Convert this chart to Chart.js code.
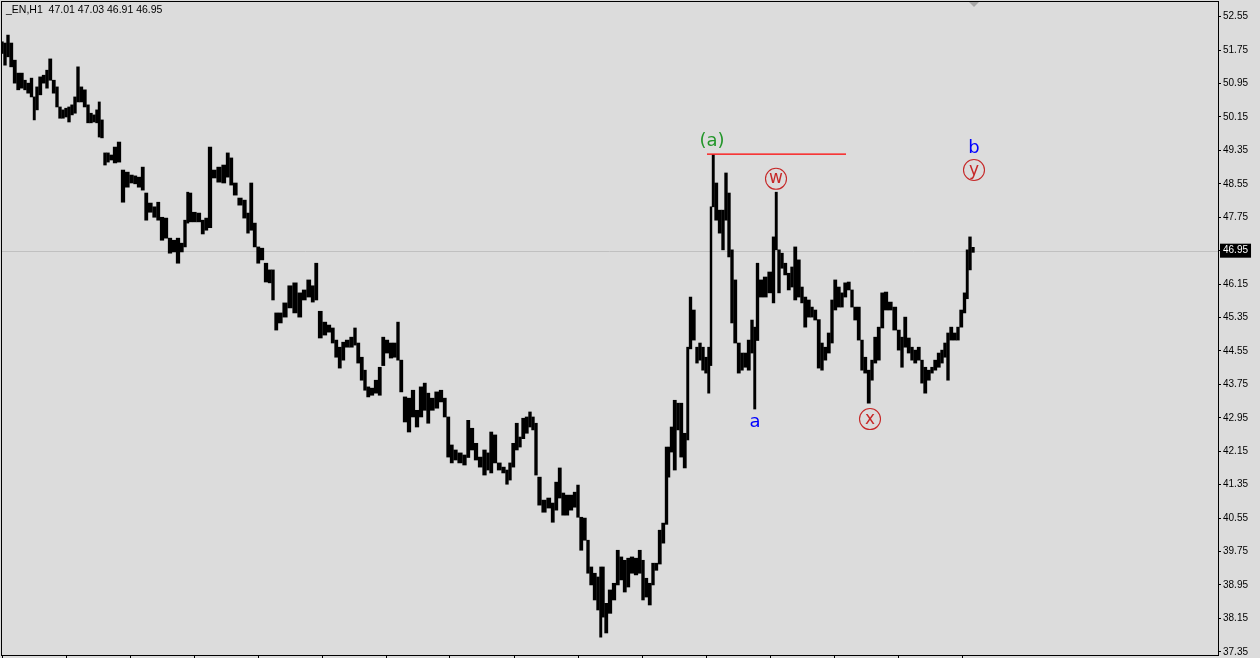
<!DOCTYPE html>
<html>
<head>
<meta charset="utf-8">
<script src="https://cdn.jsdelivr.net/npm/chart.js@4.4.1/dist/chart.umd.min.js"></script>
<style>
  html, body { margin: 0; padding: 0; background: #dcdcdc; overflow: hidden; }
  canvas { display: block; }
</style>
</head>
<body>
<canvas id="myChart" width="1260" height="658" style="width:1260px;height:658px"></canvas>
<script>
// quote header: symbol and last bar (open, high, low, close)
const symbol = '_EN,H1';
const lastBar = [47.01, 47.03, 46.91, 46.95];

// hourly bars, hour offset from the first visible bar
const hours = [
  0,3,6,9,13,16,20,23,26,30, 32,35,38,42,45,48,52,55,58,61,
  64,67,70,73,76,79,83,86,89,92, 95,97,100,103,106,109,113,117,121,125,
  130,133,137,141,144,148,153,156,160,164, 168,172,176,180,183,186,188,192,197,201,
  204,208,212,217,222,226,229,233,238,243, 246,249,253,256,260,264,268,271,274,278,
  283,288,293,298,302,307,311,314,318,323, 327,331,334,338,341,345,350,353,356,360,
  363,366,370,374,378,381,385,389,393,396, 399,403,407,411,415,419,423,426,430,435,
  439,443,446,450,453,458,463,466,470,474, 478,483,486,489,493,497,502,505,508,511,
  515,518,521,525,528,531,534,537,542,547, 551,554,558,561,565,569,573,576,579,583,
  586,589,593,596,599,601,604,608,612,616, 619,623,626,630,634,638,641,644,648,651,
  654,658,661,665,667,669,673,676,679,683, 686,688,692,695,698,701,704,707,709,711,
  714,718,721,724,727,730,733,737,740,743, 747,750,753,755,759,763,768,772,774,777,
  780,783,787,790,793,797,800,803,807,810, 813,817,820,823,827,830,833,837,840,843,
  847,850,853,857,860,863,867,870,873,877, 880,884,888,893,897,900,903,907,910,913,
  917,920,923,927,930,933,937,940,943,946, 949,953,956,959,963,965,968,971
];
const highs = [
  51.95,51.92,52.11,51.92,51.51,51.20,51.20,51.03,50.96,51.08, 50.63,50.87,51.11,51.15,51.27,51.54,51.03,50.87,50.39,50.32,
  50.36,50.39,50.44,50.63,51.35,50.87,50.80,50.44,50.24,50.20, 50.32,50.51,50.08,49.29,49.29,49.24,49.43,49.55,48.88,48.83,
  48.76,48.74,48.71,48.95,48.33,48.09,48.00,48.11,47.75,47.73, 47.25,47.20,47.25,47.13,47.68,48.35,48.33,47.87,47.85,47.68,
  47.73,49.43,48.88,48.95,49.00,49.29,49.17,48.57,48.21,48.16, 47.85,48.57,47.61,47.04,47.01,46.65,46.49,46.49,45.46,45.46,
  45.70,46.11,46.18,45.94,46.01,46.25,46.11,46.65,45.50,45.24, 45.17,45.10,44.81,44.64,44.76,44.81,44.88,45.10,44.74,44.40,
  44.09,43.69,43.66,43.85,44.16,44.88,44.81,44.74,44.74,45.24, 44.33,43.45,43.42,43.61,43.13,43.69,43.78,43.54,43.42,43.57,
  43.61,43.42,42.97,42.30,42.18,42.11,42.06,42.89,42.70,42.34, 42.01,42.18,42.11,42.61,42.54,41.87,41.77,41.70,41.87,42.34,
  42.82,42.49,42.94,42.97,43.09,42.97,42.82,41.53,40.98,41.03, 40.91,41.41,41.75,41.15,41.10,41.10,41.17,41.34,40.57,40.55,
  40.02,39.38,39.23,39.14,39.38,39.38,38.51,38.83,38.99,39.78, 39.62,39.54,39.59,39.62,39.59,39.78,39.54,39.11,38.99,39.47,
  39.47,40.26,40.43,42.25,42.25,42.73,43.37,43.30,43.30,42.58, 44.64,45.84,45.53,44.64,44.74,44.64,44.40,44.64,48.00,49.24,
  48.57,47.92,47.92,48.81,48.33,46.97,46.25,44.74,44.50,44.50, 44.81,45.29,45.12,46.65,46.25,46.32,46.44,47.28,48.35,46.97,
  46.89,46.65,46.41,46.56,47.04,46.73,46.08,45.84,45.77,45.60, 45.53,45.30,44.74,44.64,44.98,45.77,46.25,46.08,45.94,46.18,
  46.20,46.01,45.60,45.60,44.81,44.40,44.09,44.33,44.88,45.12, 45.94,45.96,45.72,45.60,45.05,44.88,45.36,44.86,44.64,44.57,
  44.64,44.33,44.16,44.09,44.16,44.33,44.50,44.57,44.74,44.98, 45.12,44.98,45.12,45.53,45.94,46.97,47.28,47.03
];
const lows = [
  51.67,51.39,51.59,51.35,50.96,50.80,50.84,50.80,50.72,50.63, 50.08,50.32,50.68,50.96,50.84,51.03,50.72,50.39,50.12,50.12,
  50.15,50.03,50.20,50.24,50.51,50.51,50.39,50.01,50.01,50.03, 50.01,49.67,49.65,49.00,49.07,49.12,49.05,49.07,48.11,48.47,
  48.57,48.55,48.47,48.40,47.68,47.87,47.75,47.68,47.20,47.25, 46.89,46.92,46.65,46.92,47.04,47.61,47.64,47.64,47.64,47.35,
  47.44,47.50,48.69,48.59,48.57,48.71,48.52,48.28,48.04,47.73, 47.37,47.44,47.04,46.65,46.73,46.20,46.18,45.77,45.05,45.22,
  45.36,45.58,45.46,45.36,45.77,45.84,45.72,45.77,44.86,44.93, 45.00,44.74,44.40,44.14,44.33,44.64,44.64,44.69,44.26,43.85,
  43.61,43.45,43.49,43.54,43.49,44.20,44.50,44.38,44.40,44.33, 43.57,42.85,42.61,42.97,42.73,42.97,43.13,42.82,43.13,43.18,
  43.33,42.97,42.01,41.87,41.94,41.87,41.82,42.00,42.18,41.94, 41.77,41.58,41.70,41.63,41.87,41.70,41.63,41.36,41.46,41.77,
  42.18,42.25,42.45,42.58,42.73,42.66,41.58,40.86,40.69,40.79, 40.45,40.74,41.03,40.62,40.62,40.74,40.81,40.57,39.78,40.02,
  39.23,38.95,38.59,38.35,37.70,38.18,37.80,38.27,38.59,38.95, 39.07,38.78,38.90,39.23,39.19,39.23,38.59,38.66,38.47,38.95,
  39.30,39.45,39.95,40.40,41.53,42.13,41.70,42.66,42.01,41.75, 42.42,44.60,44.81,44.26,44.33,44.09,44.02,43.54,44.20,48.00,
  47.68,47.37,46.97,47.68,46.80,45.22,44.74,44.02,44.09,44.16, 44.09,44.50,43.16,44.80,45.84,45.84,45.94,45.70,46.97,45.94,
  46.53,46.37,46.01,46.08,45.77,45.84,45.70,45.12,45.36,45.36, 45.29,44.14,44.09,44.33,44.50,44.74,45.53,45.60,45.60,45.84,
  46.01,45.60,45.29,44.81,44.09,44.02,43.30,43.85,44.26,44.33, 45.10,45.53,45.53,45.05,44.57,44.16,44.64,44.50,44.33,44.26,
  44.33,43.78,43.54,43.85,44.02,44.09,44.16,44.26,44.40,43.85, 44.81,44.81,44.81,45.12,45.46,45.80,46.49,46.91
];

// price axis labels and time axis tick hours
const priceTicks = [52.55,51.75,50.95,50.15,49.35,48.55,47.75,46.95,46.15,45.35,44.55,43.75,42.95,42.15,41.35,40.55,39.75,38.95,38.15,37.35];
const timeTicks = [0,64,128,192,256,320,384,448,512,576,640,704,768,832,896,960];

// horizontal level drawn from the (a) high
const levelPrice = 49.26;
const levelFrom = 705;
const levelTo = 844;

// wave count labels
const waveLabels = ['(a)', 'a', 'w', 'x', 'b', 'y'];
const waveHours = [710, 753, 774, 868, 972, 972];
const wavePrices = [49.57, 42.85, 48.67, 42.92, 49.41, 48.88];

const lastClose = lastBar[3];

const waveStyle = {
  '(a)': { color: '#23962a', circled: false },
  'a': { color: '#0000ff', circled: false },
  'b': { color: '#0000ff', circled: false },
  'w': { color: '#c62828', circled: true },
  'x': { color: '#c62828', circled: true },
  'y': { color: '#c62828', circled: true }
};

const bars = hours.map((h, i) => ({ x: h, y: [lows[i], highs[i]] }));

const terminalLook = {
  id: 'terminalLook',
  beforeDraw(chart) {
    const c = chart.ctx;
    c.save();
    c.fillStyle = '#dcdcdc';
    c.fillRect(0, 0, chart.width, chart.height);
    c.restore();
  },
  beforeDatasetsDraw(chart) {
    // current price line
    const { ctx: c, chartArea: a, scales } = chart;
    const y = Math.round(scales.y.getPixelForValue(lastClose)) + 0.5;
    c.save();
    c.strokeStyle = '#c0c0c0';
    c.lineWidth = 1;
    c.beginPath();
    c.moveTo(a.left, y);
    c.lineTo(a.right, y);
    c.stroke();
    c.restore();
  },
  afterDraw(chart) {
    const { ctx: c, chartArea: a, scales } = chart;
    c.save();
    // plot frame
    c.strokeStyle = '#000';
    c.lineWidth = 1;
    c.strokeRect(Math.round(a.left) + 0.5, Math.round(a.top) + 0.5,
                 Math.round(a.right - a.left), Math.round(a.bottom - a.top));

    // header
    c.fillStyle = '#000';
    c.font = '10.5px "Liberation Sans", Arial, sans-serif';
    c.textAlign = 'left';
    c.textBaseline = 'middle';
    c.fillText(symbol + '  ' + lastBar.map(v => v.toFixed(2)).join(' '), 6, 10);

    // chart shift marker
    const mx = scales.x.getPixelForValue(hours[hours.length - 1] + 1);
    c.fillStyle = '#a8a8a8';
    c.beginPath();
    c.moveTo(mx - 5, 2);
    c.lineTo(mx + 5, 2);
    c.lineTo(mx, 7);
    c.closePath();
    c.fill();

    // wave labels
    c.textAlign = 'center';
    c.textBaseline = 'alphabetic';
    waveLabels.forEach((t, i) => {
      const st = waveStyle[t];
      const x = scales.x.getPixelForValue(waveHours[i]);
      const y = scales.y.getPixelForValue(wavePrices[i]);
      c.fillStyle = st.color;
      if (st.circled) {
        c.strokeStyle = st.color;
        c.lineWidth = 1.1;
        c.beginPath();
        c.arc(x, y, 10.5, 0, Math.PI * 2);
        c.stroke();
        c.font = '17px "DejaVu Sans", sans-serif';
        c.fillText(t, x, y + 4.5);
      } else {
        c.font = '18px "DejaVu Sans", sans-serif';
        c.fillText(t, x, y + 5);
      }
    });
    c.restore();
  }
};

const ctx = document.getElementById('myChart').getContext('2d');
const myChart = new Chart(ctx, {
  type: 'bar',
  data: {
    datasets: [
      {
        type: 'line',
        label: 'level',
        data: [{ x: levelFrom, y: levelPrice }, { x: levelTo, y: levelPrice }],
        borderColor: '#ff0000',
        borderWidth: 1.2,
        pointRadius: 0
      },
      {
        label: symbol,
        data: bars,
        backgroundColor: '#000',
        borderWidth: 0,
        barThickness: 'flex',
        barPercentage: 0.9,
        categoryPercentage: 1
      }
    ]
  },
  options: {
    responsive: false,
    devicePixelRatio: 1,
    animation: false,
    events: [],
    layout: { padding: { left: 1, top: 1, right: 0, bottom: 0 } },
    plugins: { legend: { display: false }, tooltip: { enabled: false } },
    scales: {
      x: {
        type: 'linear',
        position: 'bottom',
        min: -1,
        max: 1216,
        offset: false,
        afterBuildTicks: axis => { axis.ticks = timeTicks.map(v => ({ value: v })); },
        ticks: { display: false },
        grid: { offset: false, drawOnChartArea: false, drawTicks: true, tickLength: 3, color: '#000' },
        border: { display: false },
        afterFit: s => { s.height = 3; s.paddingLeft = 0; s.paddingRight = 0; }
      },
      y: {
        type: 'linear',
        position: 'right',
        min: 37.273,
        max: 52.926,
        afterBuildTicks: axis => { axis.ticks = priceTicks.map(v => ({ value: v })); },
        ticks: {
          font: { family: '"Liberation Sans", Arial, sans-serif', size: 10 },
          padding: 2,
          callback: v => v.toFixed(2),
          color: c => (c.tick && c.tick.value === lastClose) ? '#fff' : '#000',
          showLabelBackdrop: c => !!(c.tick && c.tick.value === lastClose),
          backdropColor: '#000',
          backdropPadding: { top: 1, bottom: 1, left: 3, right: 3 }
        },
        grid: { drawOnChartArea: false, drawTicks: true, tickLength: 3, color: '#000' },
        border: { display: false },
        afterFit: s => { s.width = 42; s.paddingTop = 0; s.paddingBottom = 0; }
      }
    }
  },
  plugins: [terminalLook]
});
</script>
</body>
</html>
